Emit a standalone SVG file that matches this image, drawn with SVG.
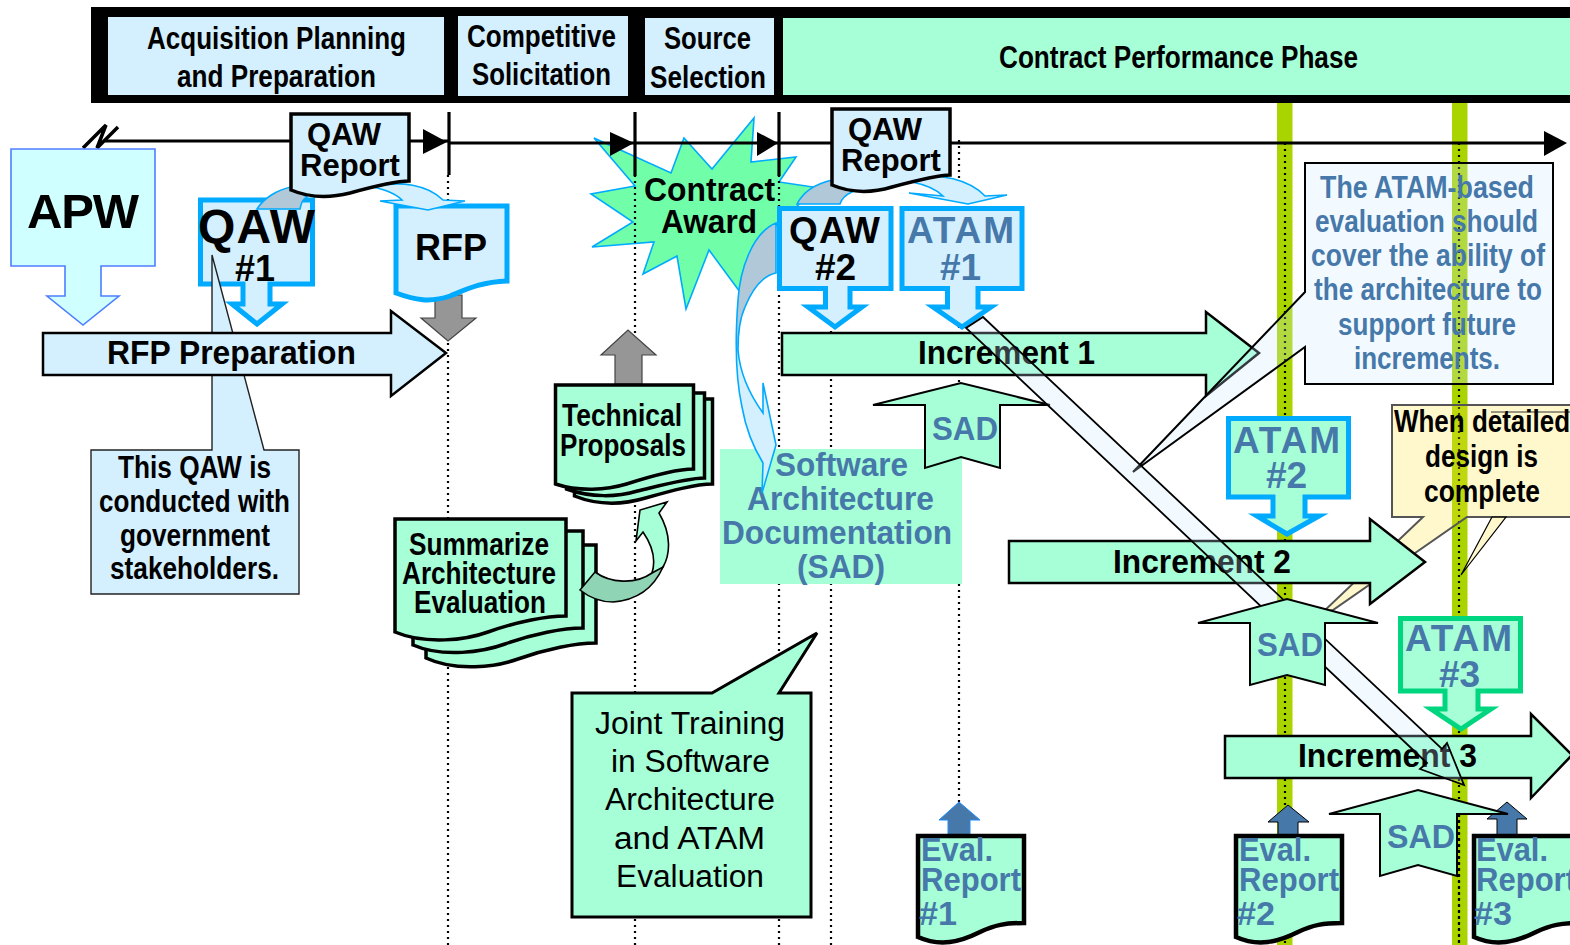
<svg xmlns="http://www.w3.org/2000/svg" width="1570" height="945" viewBox="0 0 1570 945">
<defs>
<style>
text{font-family:"Liberation Sans",Arial,sans-serif;font-weight:bold;fill:#000;}
.b{fill:#4678AA;}
.r{font-weight:normal;}
.f30{font-size:32px;}
.f33{font-size:34px;}
.f37{font-size:37px;}
.lb{fill:#D4F0FF;}
.gn{fill:#A6FFD6;}
.doc{stroke:#000;stroke-width:3.5;stroke-linejoin:miter;}
.cy{stroke:#00AAFF;stroke-width:5;}
.ln{stroke:#000;stroke-width:2.5;}
.th{stroke:#000;stroke-width:2;}
.dot{stroke:#000;stroke-width:2.200;stroke-dasharray:2 4;fill:none;}
.tick{stroke:#000;stroke-width:3.200;fill:none;}
.cur{stroke:#00AAFF;stroke-width:1.6;}
.gry{fill:#969696;stroke:#444;stroke-width:1.2;}
.blu{fill:#4678AA;stroke:#000;stroke-width:1;}
</style>
<linearGradient id="curveFill" x1="0" y1="223" x2="0" y2="493" gradientUnits="userSpaceOnUse">
<stop offset="0" stop-color="#B0C8D8"/><stop offset="0.44" stop-color="#B0C8D8"/><stop offset="0.46" stop-color="#D4F0FF"/><stop offset="1" stop-color="#D4F0FF"/>
</linearGradient>
<path id="ev" d="M918,836 H1024 V923 C1005,923 995,925 980,932 C960,942 940,947 918,937 Z" class="gn" stroke="#000" stroke-width="4.5"/>
</defs>

<g id="header">
<rect x="91" y="7" width="1479" height="96" fill="#000"/>
<rect x="108" y="17" width="336" height="78" class="lb"/>
<rect x="458" y="16" width="170" height="80" class="lb"/>
<rect x="645" y="18" width="129" height="77" class="lb"/>
<rect x="783" y="18" width="787" height="77" class="gn"/>
<text class="f30" x="147" y="49" textLength="259" lengthAdjust="spacingAndGlyphs">Acquisition Planning</text>
<text class="f30" x="177" y="87" textLength="199" lengthAdjust="spacingAndGlyphs">and Preparation</text>
<text class="f30" x="467" y="47" textLength="149" lengthAdjust="spacingAndGlyphs">Competitive</text>
<text class="f30" x="472" y="85" textLength="139" lengthAdjust="spacingAndGlyphs">Solicitation</text>
<text class="f30" x="664" y="49" textLength="87" lengthAdjust="spacingAndGlyphs">Source</text>
<text class="f30" x="650" y="88" textLength="116" lengthAdjust="spacingAndGlyphs">Selection</text>
<text class="f30" x="999" y="68" textLength="359" lengthAdjust="spacingAndGlyphs">Contract Performance Phase</text>
</g>

<rect x="1277" y="103" width="15.500" height="842" fill="#AAD400"/>
<rect x="1452" y="103" width="15.500" height="842" fill="#AAD400"/>

<g id="contract-award">
<polygon points="594,138 671,173 684,138 712,169 754,118 751,162 796,157 779,182 813,187 790,215 778,222 740,292 709,250 686,309 677,256 643,274 654,242 592,247 633,222 591,194 635,186" fill="#70FFA8" stroke="#00AAFF" stroke-width="1.6"/>
<text class="f33" x="644" y="201" textLength="131" lengthAdjust="spacingAndGlyphs">Contract</text>
<text class="f33" x="661" y="233" textLength="96" lengthAdjust="spacingAndGlyphs">Award</text>
</g>

<g id="connectors">
<path class="dot" d="M448,175V945M635,175V945M779,175V945M831,331V945M959,140V836M1285,143V945M1459,143V945"/>
<path class="tick" d="M105,141H291M409,141H449M449,143H1548"/>
<path class="tick" d="M449,112V175M635,112V176M779,112V176"/>
<polygon points="423,129 447,142 423,154"/>
<polygon points="610,132 634,143 610,156"/>
<polygon points="757,132 778,143 757,156"/>
<polygon points="1544,131 1567,143 1544,156"/>
<path d="M83,148L106,125L97,148L118,127" fill="none" stroke="#000" stroke-width="3.500"/>
</g>

<g id="sad-doc">
<rect x="720" y="449" width="242" height="135" class="gn"/>
<text class="f33 b" x="775" y="476" textLength="133" lengthAdjust="spacingAndGlyphs">Software</text>
<text class="f33 b" x="747" y="510" textLength="187" lengthAdjust="spacingAndGlyphs">Architecture</text>
<text class="f33 b" x="722" y="544" textLength="230" lengthAdjust="spacingAndGlyphs">Documentation</text>
<text class="f33 b" x="797" y="578" textLength="88" lengthAdjust="spacingAndGlyphs">(SAD)</text>
</g>

<g id="apw">
<polygon points="11,149 155,149 155,266 101,266 101,296 119,296 83,325 47,296 65,296 65,266 11,266" fill="#D0FFFF" stroke="#4D7FFF" stroke-width="1.6"/>
<text x="27" y="228" style="font-size:49px" textLength="112">APW</text>
</g>

<g id="qaw1">
<polygon points="200.500,200 312.500,200 312.500,284 270,284 270,304 282,304 257,324 232,304 243,304 243,284 200.500,284" class="lb cy"/>
<text x="198" y="243" style="font-size:48px" textLength="117">QAW</text>
<text x="235" y="281" style="font-size:36px">#1</text>
</g>

<g id="callout-qaw">
<polygon points="212,255 264,450 299,450 299,594 91,594 91,450 212,450" class="lb" stroke="#222" stroke-width="1.400"/>
<text class="f30" x="118" y="478" textLength="153" lengthAdjust="spacingAndGlyphs">This QAW is</text>
<text class="f30" x="99" y="512" textLength="191" lengthAdjust="spacingAndGlyphs">conducted with</text>
<text class="f30" x="120" y="546" textLength="150" lengthAdjust="spacingAndGlyphs">government</text>
<text class="f30" x="110" y="579" textLength="169" lengthAdjust="spacingAndGlyphs">stakeholders.</text>
</g>

<g id="rfp-preparation">
<polygon points="43,333 391,333 391,311 446,353 391,396 391,375 43,375" class="lb ln"/>
<text class="f33" x="107" y="364" textLength="249" lengthAdjust="spacingAndGlyphs">RFP Preparation</text>
</g>

<g id="rfp-down"><polygon points="435,295 462,295 462,318 476,318 448,341 421,318 435,318" class="gry"/></g>
<g id="rfp">
<path d="M396,206 H507 V281 C480,282 465,290 450,296 C430,303 415,300 396,293 Z" class="lb cy"/>
<text x="415" y="260" style="font-size:36px">RFP</text>
</g>

<g id="connectors-upper">
<path d="M257,209 C264,198 277,190 291,187 L307,197 C302,200 301,204 300,209 Z" fill="#B0C8D8" class="cur"/>
<path d="M373,187 C400,180 428,185 443,200 L465,201 L428,210 L380,201 L402,200 C395,193 385,190 373,187 Z" class="lb cur"/>
<path d="M797,204 C803,192 815,184 832,180 L852,192 C845,195 842,198 840,204 Z" fill="#B0C8D8" class="cur"/>
<path d="M909,178 C940,172 970,180 985,196 L1007,195 L968,204 L909,193 L943,196 C935,188 922,184 912,182 Z" class="lb cur"/>
<path d="M776,223 C752,233 740,270 738,300 C735,340 735,375 742,407 C746,430 755,450 763,463 L762,493 L776,445 L763,383 L763,413 C750,395 740,375 738,350 C738,330 740,318 745,307 C752,290 762,276 776,273 Z" fill="url(#curveFill)" class="cur"/>
</g>

<g id="qaw-report-1">
<path d="M291,114 H409 V181 C395,181 375,186 350,193 C330,198 310,198 291,190 Z" class="lb doc"/>
<text x="307" y="145" style="font-size:31px">QAW</text>
<text x="300" y="176" style="font-size:31px">Report</text>
</g>

<g id="qaw2">
<polygon points="779.500,208.500 891,208.500 891,288.500 850,288.500 850,307 862,307 835,327 808,307 825.500,307 825.500,288.500 779.500,288.500" class="lb cy"/>
<text x="789" y="243" class="f37" textLength="91">QAW</text>
<text x="815" y="280" class="f37">#2</text>
</g>
<g id="atam1">
<polygon points="902,208.500 1022,208.500 1022,288.500 978,288.500 978,307 991,307 962,327 933,307 947.500,307 947.500,288.500 902,288.500" class="lb cy"/>
<text x="907" y="243" class="f37 b" textLength="107">ATAM</text>
<text x="940" y="280" class="f37 b">#1</text>
</g>
<g id="qaw-report-2">
<path d="M832,109 H950 V175 C938,175 918,180 892,187 C872,193 851,193 832,185 Z" class="lb doc"/>
<text x="848" y="140" style="font-size:31px">QAW</text>
<text x="841" y="171" style="font-size:31px">Report</text>
</g>

<g id="technical-proposals-up"><polygon points="615,384 642,384 642,355 656,355 628,330 601,355 615,355" class="gry"/></g>
<g id="technical-proposals" transform="translate(1.500,1)">
<path d="M573,398 H711 V483 C694,483 669,490 644,497 C624,503 598,505 573,495 Z" class="gn doc"/>
<path d="M565,392 H703 V477 C686,477 661,484 636,490 C616,496 590,497 565,488 Z" class="gn doc"/>
<path d="M554,384 H692 V468 C675,468 650,475 625,483 C605,489 578,491 554,483 Z" class="gn doc"/>
<text class="f30" x="560.500" y="425" textLength="120" lengthAdjust="spacingAndGlyphs">Technical</text>
<text class="f30" x="558.500" y="455" textLength="126" lengthAdjust="spacingAndGlyphs">Proposals</text>
</g>

<g id="summarize" transform="translate(1,0)">
<path d="M425,545 H595 V643 C575,643 545,649 517,659 C495,667 455,672 425,658 Z" class="gn doc"/>
<path d="M412,531 H582 V628 C562,628 532,634 504,644 C482,652 442,658 412,645 Z" class="gn doc"/>
<path d="M394,519 H565 V616 C545,616 515,622 487,632 C465,640 425,645 394,632 Z" class="gn doc"/>
<text class="f30" x="408" y="555" textLength="140" lengthAdjust="spacingAndGlyphs">Summarize</text>
<text class="f30" x="401" y="584" textLength="154" lengthAdjust="spacingAndGlyphs">Architecture</text>
<text class="f30" x="413" y="613" textLength="132" lengthAdjust="spacingAndGlyphs">Evaluation</text>
</g>
<g id="summarize-arrow">
<path d="M652,573 C656,560 652,545 643,532 L636,541 L640,510 L667,502 L659,513 C672,535 670,555 663,567 C660,572 656,574 652,573 Z" class="gn" stroke="#000" stroke-width="1.600"/>
<path d="M580,590 L595,572 C610,583 635,585 652,573 L663,567 C655,585 640,600 613,602 C602,602 590,598 580,590 Z" fill="#8FD4B4" stroke="#000" stroke-width="1.600"/>
</g>

<g id="joint-training" transform="translate(1,1)">
<polygon points="571,692 711,692 816,632 778,692 810,692 810,916 571,916" class="gn" stroke="#000" stroke-width="3"/>
<g style="font-size:31px">
<text class="r" x="594" y="733" textLength="190" lengthAdjust="spacingAndGlyphs">Joint Training</text>
<text class="r" x="610" y="771" textLength="159" lengthAdjust="spacingAndGlyphs">in Software</text>
<text class="r" x="604" y="809" textLength="170" lengthAdjust="spacingAndGlyphs">Architecture</text>
<text class="r" x="613" y="848" textLength="151" lengthAdjust="spacingAndGlyphs">and ATAM</text>
<text class="r" x="615" y="886" textLength="148" lengthAdjust="spacingAndGlyphs">Evaluation</text>
</g>
</g>

<g id="increment-1">
<polygon points="782,333 1206,333 1206,312 1259,353 1206,396 1206,375 782,375" class="gn ln"/>
<text class="f33" x="918" y="364" textLength="177" lengthAdjust="spacingAndGlyphs">Increment 1</text>
</g>
<g id="sad-1">
<polygon points="873,405 961,383 1050,405 1000,405 1000,468 961,457 925,468 925,405" class="gn th"/>
<text class="f33 b" x="932" y="440" textLength="66" lengthAdjust="spacingAndGlyphs">SAD</text>
</g>

<g id="atam-note">
<path d="M1305,163 H1553 V384 H1305 V347 L1133,472 L1305,292 Z" fill="#CBEBFF" fill-opacity="0.25" stroke="#000" stroke-width="2"/>
<text class="f30 b" x="1320" y="198" textLength="214" lengthAdjust="spacingAndGlyphs">The ATAM-based</text>
<text class="f30 b" x="1315" y="232" textLength="223" lengthAdjust="spacingAndGlyphs">evaluation should</text>
<text class="f30 b" x="1311" y="266" textLength="234" lengthAdjust="spacingAndGlyphs">cover the ability of</text>
<text class="f30 b" x="1314" y="300" textLength="228" lengthAdjust="spacingAndGlyphs">the architecture to</text>
<text class="f30 b" x="1338" y="335" textLength="178" lengthAdjust="spacingAndGlyphs">support future</text>
<text class="f30 b" x="1354" y="369" textLength="146" lengthAdjust="spacingAndGlyphs">increments.</text>
</g>

<g id="yellow-note">
<path d="M1570,517 H1467 L1333,610 L1323,612 L1423,517 H1392 V405 H1570" fill="#FFE333" fill-opacity="0.25" stroke="#555" stroke-width="2"/>
<path d="M1492,517 L1461,575 L1506,517 Z" fill="#FFE333" fill-opacity="0.25" stroke="#000" stroke-width="1.200"/>
<path d="M1491,412 H1570" stroke="#333" stroke-width="1"/>
<text class="f30" x="1394" y="432" textLength="176" lengthAdjust="spacingAndGlyphs">When detailed</text>
<text class="f30" x="1425" y="467" textLength="113" lengthAdjust="spacingAndGlyphs">design is</text>
<text class="f30" x="1424" y="502" textLength="116" lengthAdjust="spacingAndGlyphs">complete</text>
</g>

<g id="atam2">
<polygon points="1228.500,418.500 1348.500,418.500 1348.500,497 1305,497 1305,516 1319,516 1287,534 1257,516 1273,516 1273,497 1228.500,497" class="gn cy"/>
<text x="1233" y="453" class="f37 b" textLength="107">ATAM</text>
<text x="1266" y="488" class="f37 b">#2</text>
</g>

<g id="increment-2">
<polygon points="1009,541 1370,541 1370,519 1425,562 1370,604 1370,583 1009,583" class="gn ln"/>
<text class="f33" x="1113" y="573" textLength="178" lengthAdjust="spacingAndGlyphs">Increment 2</text>
</g>

<g id="increment-3">
<polygon points="1225,736 1531,736 1531,714 1572,755 1531,798 1531,778 1225,778" class="gn ln"/>
<text class="f33" x="1298" y="767" textLength="179" lengthAdjust="spacingAndGlyphs">Increment 3</text>
</g>

<g id="atam3">
<polygon points="1400.500,618.500 1520.500,618.500 1520.500,691 1478,691 1478,709 1491,709 1461,729 1431,709 1445,709 1445,691 1400.500,691" class="gn" stroke="#00D67F" stroke-width="5"/>
<text x="1405" y="651" class="f37 b" textLength="107">ATAM</text>
<text x="1439" y="687" class="f37 b">#3</text>
</g>

<g id="connector-diagonal">
<polygon points="983,317 1442,749 1447,743 1464,785 1420,769 1427,763 966,328" fill="#CBEBFF" fill-opacity="0.25" stroke="#000" stroke-width="1.800"/>
</g>

<g id="sad-2">
<polygon points="1198,623 1287,599 1378,623 1325,623 1325,685 1287,675 1250,685 1250,623" class="gn th"/>
<text class="f33 b" x="1257" y="656" textLength="66" lengthAdjust="spacingAndGlyphs">SAD</text>
</g>

<g id="eval-1">
<polygon points="948,836 970,836 970,820 980,820 959,802 939,820 948,820" fill="#4678AA" stroke="#1E8CFF" stroke-width="1"/>
<use href="#ev"/>
<text class="f33 b" x="921" y="861" textLength="72" lengthAdjust="spacingAndGlyphs">Eval.</text>
<text class="f33 b" x="921" y="891" textLength="100" lengthAdjust="spacingAndGlyphs">Report</text>
<text class="f33 b" x="919" y="925" textLength="38" lengthAdjust="spacingAndGlyphs">#1</text>
</g>
<g id="eval-2">
<polygon points="1278,836 1298,836 1298,822 1309,822 1288,805 1268,822 1278,822" class="blu"/>
<use href="#ev" x="318"/>
<text class="f33 b" x="1239" y="861" textLength="72" lengthAdjust="spacingAndGlyphs">Eval.</text>
<text class="f33 b" x="1239" y="891" textLength="100" lengthAdjust="spacingAndGlyphs">Report</text>
<text class="f33 b" x="1237" y="925" textLength="38" lengthAdjust="spacingAndGlyphs">#2</text>
</g>
<g id="eval-3">
<polygon points="1497,836 1517,836 1517,819 1527,819 1507,802 1487,819 1497,819" class="blu"/>
<use href="#ev" x="556"/>
<text class="f33 b" x="1476" y="861" textLength="72" lengthAdjust="spacingAndGlyphs">Eval.</text>
<text class="f33 b" x="1476" y="891" textLength="100" lengthAdjust="spacingAndGlyphs">Report</text>
<text class="f33 b" x="1474" y="925" textLength="38" lengthAdjust="spacingAndGlyphs">#3</text>
</g>
<g id="sad-3">
<polygon points="1329,814 1418,790 1508,814 1457,814 1457,876 1418,865 1380,876 1380,814" class="gn th"/>
<text class="f33 b" x="1387" y="848" textLength="68" lengthAdjust="spacingAndGlyphs">SAD</text>
</g>
<path id="dot-over-sad3" class="dot" d="M1459,814V945"/>
</svg>
